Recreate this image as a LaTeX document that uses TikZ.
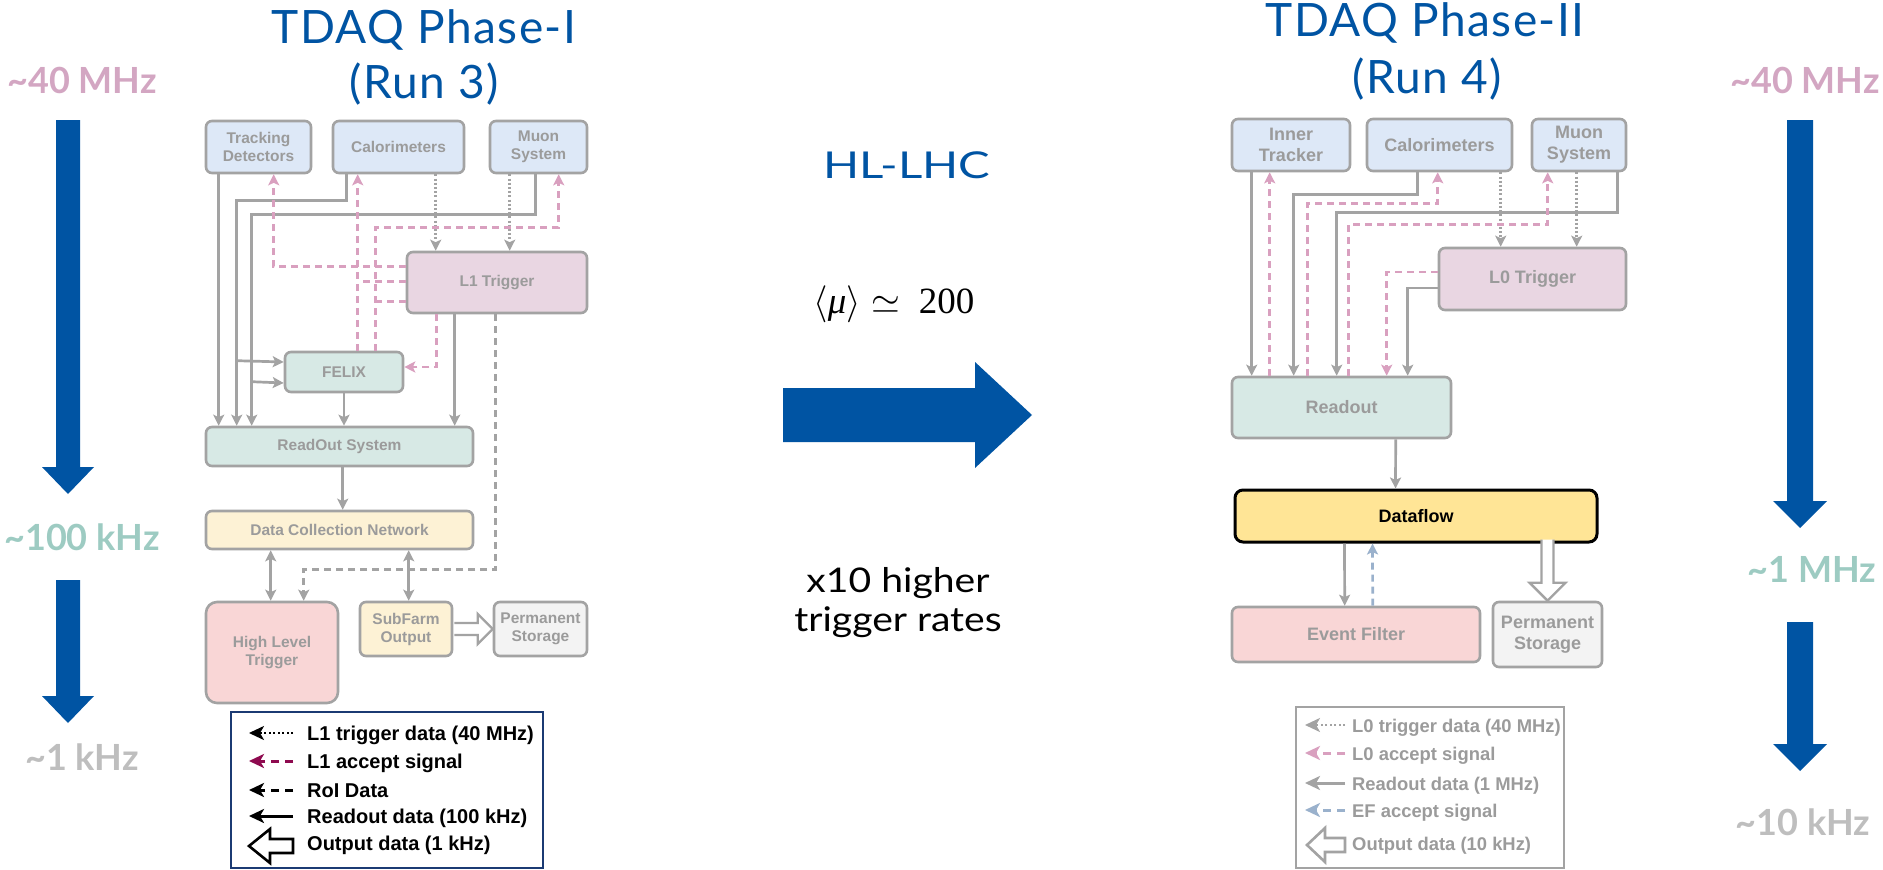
\RequirePackage{fix-cm}
\documentclass[tikz,border=0pt]{standalone}
\usepackage{fontspec}
\setmainfont{Lato}
\newfontfamily\boxfont{Liberation Sans}
\newfontfamily\ratefont{Lato}
\newfontfamily\serifnum{Liberation Serif}
\newfontfamily\titlefont[LetterSpace=3]{Lato}
\usetikzlibrary{arrows.meta,calc}
\definecolor{tblue}{HTML}{0054A3}
\definecolor{ratepink}{HTML}{D3A6C2}
\definecolor{rateteal}{HTML}{9DCBC2}
\definecolor{rategray}{HTML}{BEBEBE}
\definecolor{boxgray}{HTML}{A3A3A3}
\definecolor{boxtext}{HTML}{9B9B9B}
\definecolor{detfill}{HTML}{DDE8F7}
\definecolor{trigfill}{HTML}{E9D6E2}
\definecolor{rofill}{HTML}{D7E9E5}
\definecolor{dcfill}{HTML}{FDF2D5}
\definecolor{hltfill}{HTML}{F9D6D6}
\definecolor{psfill}{HTML}{F3F3F3}
\definecolor{dffill}{HTML}{FFE596}
\definecolor{pinkline}{HTML}{D9A0BF}
\definecolor{blueline}{HTML}{9AB1CC}
\definecolor{navy}{HTML}{1B3A73}
\definecolor{legmag}{HTML}{8E0A4F}
\begin{document}
\begin{tikzpicture}[x=1pt,y=-1pt,
  blk/.style={draw=boxgray, line width=2.6pt, rounded corners=6pt, inner sep=0pt, align=center, text=boxtext,
    font=\boxfont\bfseries\fontsize{15.5}{18}\selectfont},
  blkb/.style={blk, font=\boxfont\bfseries\fontsize{18}{21}\selectfont},
  gl/.style={draw=boxgray, line width=2.7pt},
  dotg/.style={draw=boxgray, line width=2.7pt, dash pattern=on 2pt off 2.2pt},
  dashg/.style={draw=boxgray, line width=2.7pt, dash pattern=on 7pt off 5pt},
  pdash/.style={draw=pinkline, line width=2.7pt, dash pattern=on 7pt off 5pt},
  bdash/.style={draw=blueline, line width=2.7pt, dash pattern=on 7pt off 5pt},
  arr/.style={-{Stealth[length=11pt,width=11pt,inset=2.5pt]}},
  darr/.style={{Stealth[length=11pt,width=11pt,inset=2.5pt]}-{Stealth[length=11pt,width=11pt,inset=2.5pt]}},
  larr/.style={-{Stealth[length=15pt,width=14pt,inset=4pt]}},
  hollow/.style={draw=boxgray, line width=2.4pt, fill=white, line join=miter},
  title/.style={text=tblue, inner sep=0pt, anchor=base, font=\titlefont\fontsize{46}{55}\selectfont},
  rate/.style={inner sep=0pt, anchor=base, font=\ratefont\bfseries\fontsize{36}{40}\selectfont},
  legl/.style={inner sep=0pt, anchor=base west, font=\boxfont\bfseries\fontsize{20}{24}\selectfont},
  legr/.style={inner sep=0pt, anchor=base west, text=boxtext, font=\boxfont\bfseries\fontsize{18.4}{22}\selectfont}
]
\useasboundingbox[fill=white] (0,0) rectangle (1883,870);

% ---------- titles ----------
\node[title] (t1a) at (424,43) {TDAQ Phase-I};
\node[title] (t1b) at (424,98) {(Run 3)};
\node[title] (t2a) at (1425,36) {TDAQ Phase-II};
\node[title] (t2b) at (1427,93) {(Run 4)};

% ---------- rates left ----------
\node[rate, text=ratepink] (r1) at (82,93) {\textasciitilde40 MHz};
\node[rate, text=rateteal] (r2) at (82,550) {\textasciitilde100 kHz};
\node[rate, text=rategray] (r3) at (82,770) {\textasciitilde1 kHz};
\fill[tblue] (56,120) -- (80,120) -- (80,467) -- (94,467) -- (68,494) -- (42,467) -- (56,467) -- cycle;
\fill[tblue] (56,580) -- (80,580) -- (80,696) -- (94,696) -- (68,723) -- (42,696) -- (56,696) -- cycle;

% ---------- rates right ----------
\node[rate, text=ratepink] (r4) at (1805,93) {\textasciitilde40 MHz};
\node[rate, text=rateteal] (r5) at (1812,582) {\textasciitilde1 MHz};
\node[rate, text=rategray] (r6) at (1803,835) {\textasciitilde10 kHz};
\fill[tblue] (1787,120) -- (1813,120) -- (1813,501) -- (1827,501) -- (1800,528) -- (1773,501) -- (1787,501) -- cycle;
\fill[tblue] (1787,622) -- (1813,622) -- (1813,744) -- (1827,744) -- (1800,771) -- (1773,744) -- (1787,744) -- cycle;

% ---------- middle ----------
\node[text=tblue, font=\fontsize{37}{44}\selectfont, inner sep=0pt] (hl) at (907,165) {\scalebox{1.28}[1]{HL-LHC}};
\node[font=\fontsize{37}{44}\selectfont, inner sep=0pt] (mu) at (894,304) {$\langle${\serifnum\itshape μ}$\rangle \simeq$\ \ {\serifnum 200}};
\fill[tblue] (783,388) -- (975,388) -- (975,362) -- (1032,415) -- (975,468) -- (975,442) -- (783,442) -- cycle;
\node[font=\fontsize{34}{40}\selectfont, inner sep=0pt] (x10) at (898,583) {\scalebox{1.15}[1]{x10 higher}};
\node[font=\fontsize{34}{40}\selectfont, inner sep=0pt] (trr) at (898,622) {\scalebox{1.15}[1]{trigger rates}};

% ---------- Phase-I diagram ----------
\node[blk, fill=detfill, minimum width=105pt, minimum height=52pt] (trk) at (258.5,147) {Tracking\\Detectors};
\node[blk, fill=detfill, minimum width=131pt, minimum height=52pt] (cal1) at (398.5,147) {Calorimeters};
\node[blk, fill=detfill, minimum width=97pt, minimum height=52pt] (muo1) at (538.5,147) {Muon\\System};
\node[blk, fill=trigfill, minimum width=180pt, minimum height=61pt] (l1) at (497,282.5) {L1 Trigger};
\node[blk, fill=rofill, minimum width=118pt, minimum height=40pt] (felix) at (344,372) {FELIX};
\node[blk, fill=rofill, minimum width=267pt, minimum height=39pt] (ros) at (339.5,446.5) {ReadOut System};
\node[blk, fill=dcfill, minimum width=267pt, minimum height=38pt] (dcn) at (339.5,530) {Data Collection Network};
\node[blk, fill=hltfill, minimum width=132pt, minimum height=101pt, rounded corners=11pt] (hlt) at (272,652.5) {High Level\\Trigger};
\node[blk, fill=dcfill, minimum width=92pt, minimum height=54pt] (sfo) at (406,629) {SubFarm\\Output};
\node[blk, fill=psfill, minimum width=93pt, minimum height=54pt] (ps1) at (540.5,629) {Permanent\\Storage};

\draw[gl,arr] ($(trk.south west)+(14,0)$) -- ($(ros.north west)+(14,0)$);
\draw[gl,arr] ($(cal1.south west)+(15,0)$) -- ++(0,26) -| ($(ros.north west)+(32,0)$);
\draw[gl,arr] ($(ros.north west)+(32,-65)$) -- ($(felix.west)+(0,-10)$);
\draw[gl,arr] ($(muo1.south west)+(47,0)$) -- ++(0,40) -| ($(ros.north west)+(47,0)$);
\draw[gl,arr] ($(ros.north west)+(47,-44)$) -- ($(felix.west)+(0,11)$);
\draw[gl,arr] (felix.south) -- (felix.south |- ros.north);
\draw[gl,arr] ($(l1.south west)+(49,0)$) -- ($(ros.north west)+(250,0)$);
\draw[dotg,arr] ($(cal1.south west)+(104,0)$) -- ($(l1.north west)+(30,0)$);
\draw[dotg,arr] ($(muo1.south west)+(21,0)$) -- ($(l1.north west)+(104,0)$);
\draw[pdash,arr] ($(l1.north west)+(0,16)$) -| ($(trk.south west)+(69,0)$);
\draw[pdash] ($(l1.north west)+(0,31)$) -- ($(felix.north west)+(74,-69)$);
\draw[pdash,arr] ($(felix.north west)+(74,0)$) -- ($(cal1.south west)+(26,0)$);
\draw[pdash] ($(l1.north west)+(0,51)$) -- ($(felix.north west)+(92,-49)$);
\draw[pdash,arr] ($(felix.north west)+(92,0)$) |- ($(muo1.south west)+(70,53)$) -- ($(muo1.south west)+(70,0)$);
\draw[pdash,arr] ($(l1.south west)+(31,0)$) |- ($(felix.east)+(0,-5)$);
\draw[dashg,arr] ($(l1.south west)+(90,0)$) |- ($(hlt.north west)+(99,-31)$) -- ($(hlt.north west)+(99,0)$);
\draw[gl,arr] ($(ros.south west)+(138,0)$) -- ($(dcn.north west)+(138,0)$);
\draw[gl,darr] ($(dcn.south west)+(66,0)$) -- ($(hlt.north west)+(66,0)$);
\draw[gl,darr] ($(dcn.south west)+(204,0)$) -- ($(sfo.north west)+(50,0)$);
\draw[hollow] ($(sfo.east)+(1,-6)$) -- ($(ps1.west)+(-15,-6)$) -- ($(ps1.west)+(-15,-15)$) -- (ps1.west)
  -- ($(ps1.west)+(-15,15)$) -- ($(ps1.west)+(-15,6)$) -- ($(sfo.east)+(1,6)$);

% ---------- Phase-I legend ----------
\draw[navy, line width=2pt] (231,712) rectangle (543,868);
\coordinate (la1) at (293,733); \coordinate (lb1) at (249,733);
\coordinate (la2) at (293,761); \coordinate (lb2) at (249,761);
\coordinate (la3) at (293,790); \coordinate (lb3) at (249,790);
\coordinate (la4) at (293,816); \coordinate (lb4) at (249,816);
\coordinate (la5) at (293,846); \coordinate (lb5) at (249,846);
\draw[black, line width=2.4pt, dash pattern=on 2pt off 2.5pt, larr] (la1) -- (lb1);
\draw[legmag, line width=3pt, dash pattern=on 8pt off 6pt, larr] (la2) -- (lb2);
\draw[black, line width=3pt, dash pattern=on 8pt off 6pt, larr] (la3) -- (lb3);
\draw[black, line width=3pt, larr] (la4) -- (lb4);
\draw[black, line width=2.6pt, fill=white, line join=miter] ($(la5)+(0,-7)$) -- ($(lb5)+(21,-7)$) -- ($(lb5)+(21,-17)$) -- (lb5)
  -- ($(lb5)+(21,17)$) -- ($(lb5)+(21,7)$) -- ($(la5)+(0,7)$) -- cycle;
\node[legl] (lt1) at (307,740) {L1 trigger data (40 MHz)};
\node[legl] (lt2) at (307,768) {L1 accept signal};
\node[legl] (lt3) at (307,797) {RoI Data};
\node[legl] (lt4) at (307,823) {Readout data (100 kHz)};
\node[legl] (lt5) at (307,850) {Output data (1 kHz)};

% ---------- Phase-II diagram ----------
\node[blkb, fill=detfill, minimum width=118pt, minimum height=52pt] (itk) at (1291,145) {Inner\\Tracker};
\node[blkb, fill=detfill, minimum width=145pt, minimum height=52pt] (cal2) at (1439.5,145) {Calorimeters};
\node[blkb, fill=detfill, minimum width=94pt, minimum height=52pt] (muo2) at (1579,145) {Muon\\System};
\node[blkb, fill=trigfill, minimum width=187pt, minimum height=62pt] (l0) at (1532.5,279) {L0 Trigger};
\node[blkb, fill=rofill, minimum width=219pt, minimum height=61pt] (rdo) at (1341.5,407.5) {Readout};
\node[blkb, fill=dffill, draw=black, line width=3pt, text=black, rounded corners=8pt, minimum width=362pt, minimum height=52pt] (df) at (1416,516) {Dataflow};
\node[blkb, fill=hltfill, minimum width=248pt, minimum height=55pt] (ef) at (1356,634.5) {Event Filter};
\node[blkb, fill=psfill, minimum width=109pt, minimum height=65pt] (ps2) at (1547.5,634.5) {Permanent\\Storage};

\draw[gl,arr] ($(itk.south west)+(21,0)$) -- ($(rdo.north west)+(21,0)$);
\draw[gl,arr] ($(cal2.south west)+(52,0)$) -- ++(0,22) -| ($(rdo.north west)+(63,0)$);
\draw[gl,arr] ($(muo2.south east)+(-10,0)$) -- ++(0,40) -| ($(rdo.north west)+(106,0)$);
\draw[gl,arr] ($(l0.west)+(0,9)$) -| ($(rdo.north west)+(177,0)$);
\draw[gl,arr] ($(rdo.south west)+(165,0)$) -- ($(df.north west)+(162,0)$);
\draw[dotg,arr] ($(cal2.south west)+(135,0)$) -- ($(l0.north west)+(63,0)$);
\draw[dotg,arr] ($(muo2.south west)+(46,0)$) -- ($(l0.north west)+(139,0)$);
\draw[pdash,arr] ($(rdo.north west)+(39,0)$) -- ($(itk.south west)+(39,0)$);
\draw[pdash,arr] ($(rdo.north west)+(77,0)$) |- ($(cal2.south west)+(72,31)$) -- ($(cal2.south west)+(72,0)$);
\draw[pdash,arr] ($(rdo.north west)+(118,0)$) |- ($(muo2.south west)+(17,52)$) -- ($(muo2.south west)+(17,0)$);
\draw[pdash,arr] ($(l0.west)+(0,-7)$) -| ($(rdo.north west)+(156,0)$);
\draw[gl,arr] ($(df.south west)+(111,0)$) -- ($(ef.north west)+(114,0)$);
\draw[bdash,arr] ($(ef.north west)+(142,0)$) -- ($(df.south west)+(139,0)$);
\draw[hollow] ($(ps2.north)+(-6,-61)$) -- ($(ps2.north)+(-6,-18)$) -- ($(ps2.north)+(-18,-18)$) -- (ps2.north)
  -- ($(ps2.north)+(18,-18)$) -- ($(ps2.north)+(6,-18)$) -- ($(ps2.north)+(6,-61)$);

% ---------- Phase-II legend ----------
\draw[boxgray, line width=1.2pt] (1296,707) rectangle (1564,868);
\coordinate (ra1) at (1345,725); \coordinate (rb1) at (1305,725);
\coordinate (ra2) at (1345,753); \coordinate (rb2) at (1305,753);
\coordinate (ra3) at (1345,783); \coordinate (rb3) at (1305,783);
\coordinate (ra4) at (1345,810); \coordinate (rb4) at (1305,810);
\coordinate (ra5) at (1345,845); \coordinate (rb5) at (1307,845);
\draw[boxgray, line width=2.4pt, dash pattern=on 2pt off 2.5pt, larr] (ra1) -- (rb1);
\draw[pinkline, line width=3pt, dash pattern=on 8pt off 6pt, larr] (ra2) -- (rb2);
\draw[boxgray, line width=3pt, larr] (ra3) -- (rb3);
\draw[blueline, line width=3pt, dash pattern=on 8pt off 6pt, larr] (ra4) -- (rb4);
\draw[boxgray, line width=2.6pt, fill=white, line join=miter] ($(ra5)+(0,-7)$) -- ($(rb5)+(18,-7)$) -- ($(rb5)+(18,-17)$) -- (rb5)
  -- ($(rb5)+(18,17)$) -- ($(rb5)+(18,7)$) -- ($(ra5)+(0,7)$) -- cycle;
\node[legr] (rt1) at (1352,732) {L0 trigger data (40 MHz)};
\node[legr] (rt2) at (1352,760) {L0 accept signal};
\node[legr] (rt3) at (1352,790) {Readout data (1 MHz)};
\node[legr] (rt4) at (1352,817) {EF accept signal};
\node[legr] (rt5) at (1352,850) {Output data (10 kHz)};
\end{tikzpicture}
\end{document}
